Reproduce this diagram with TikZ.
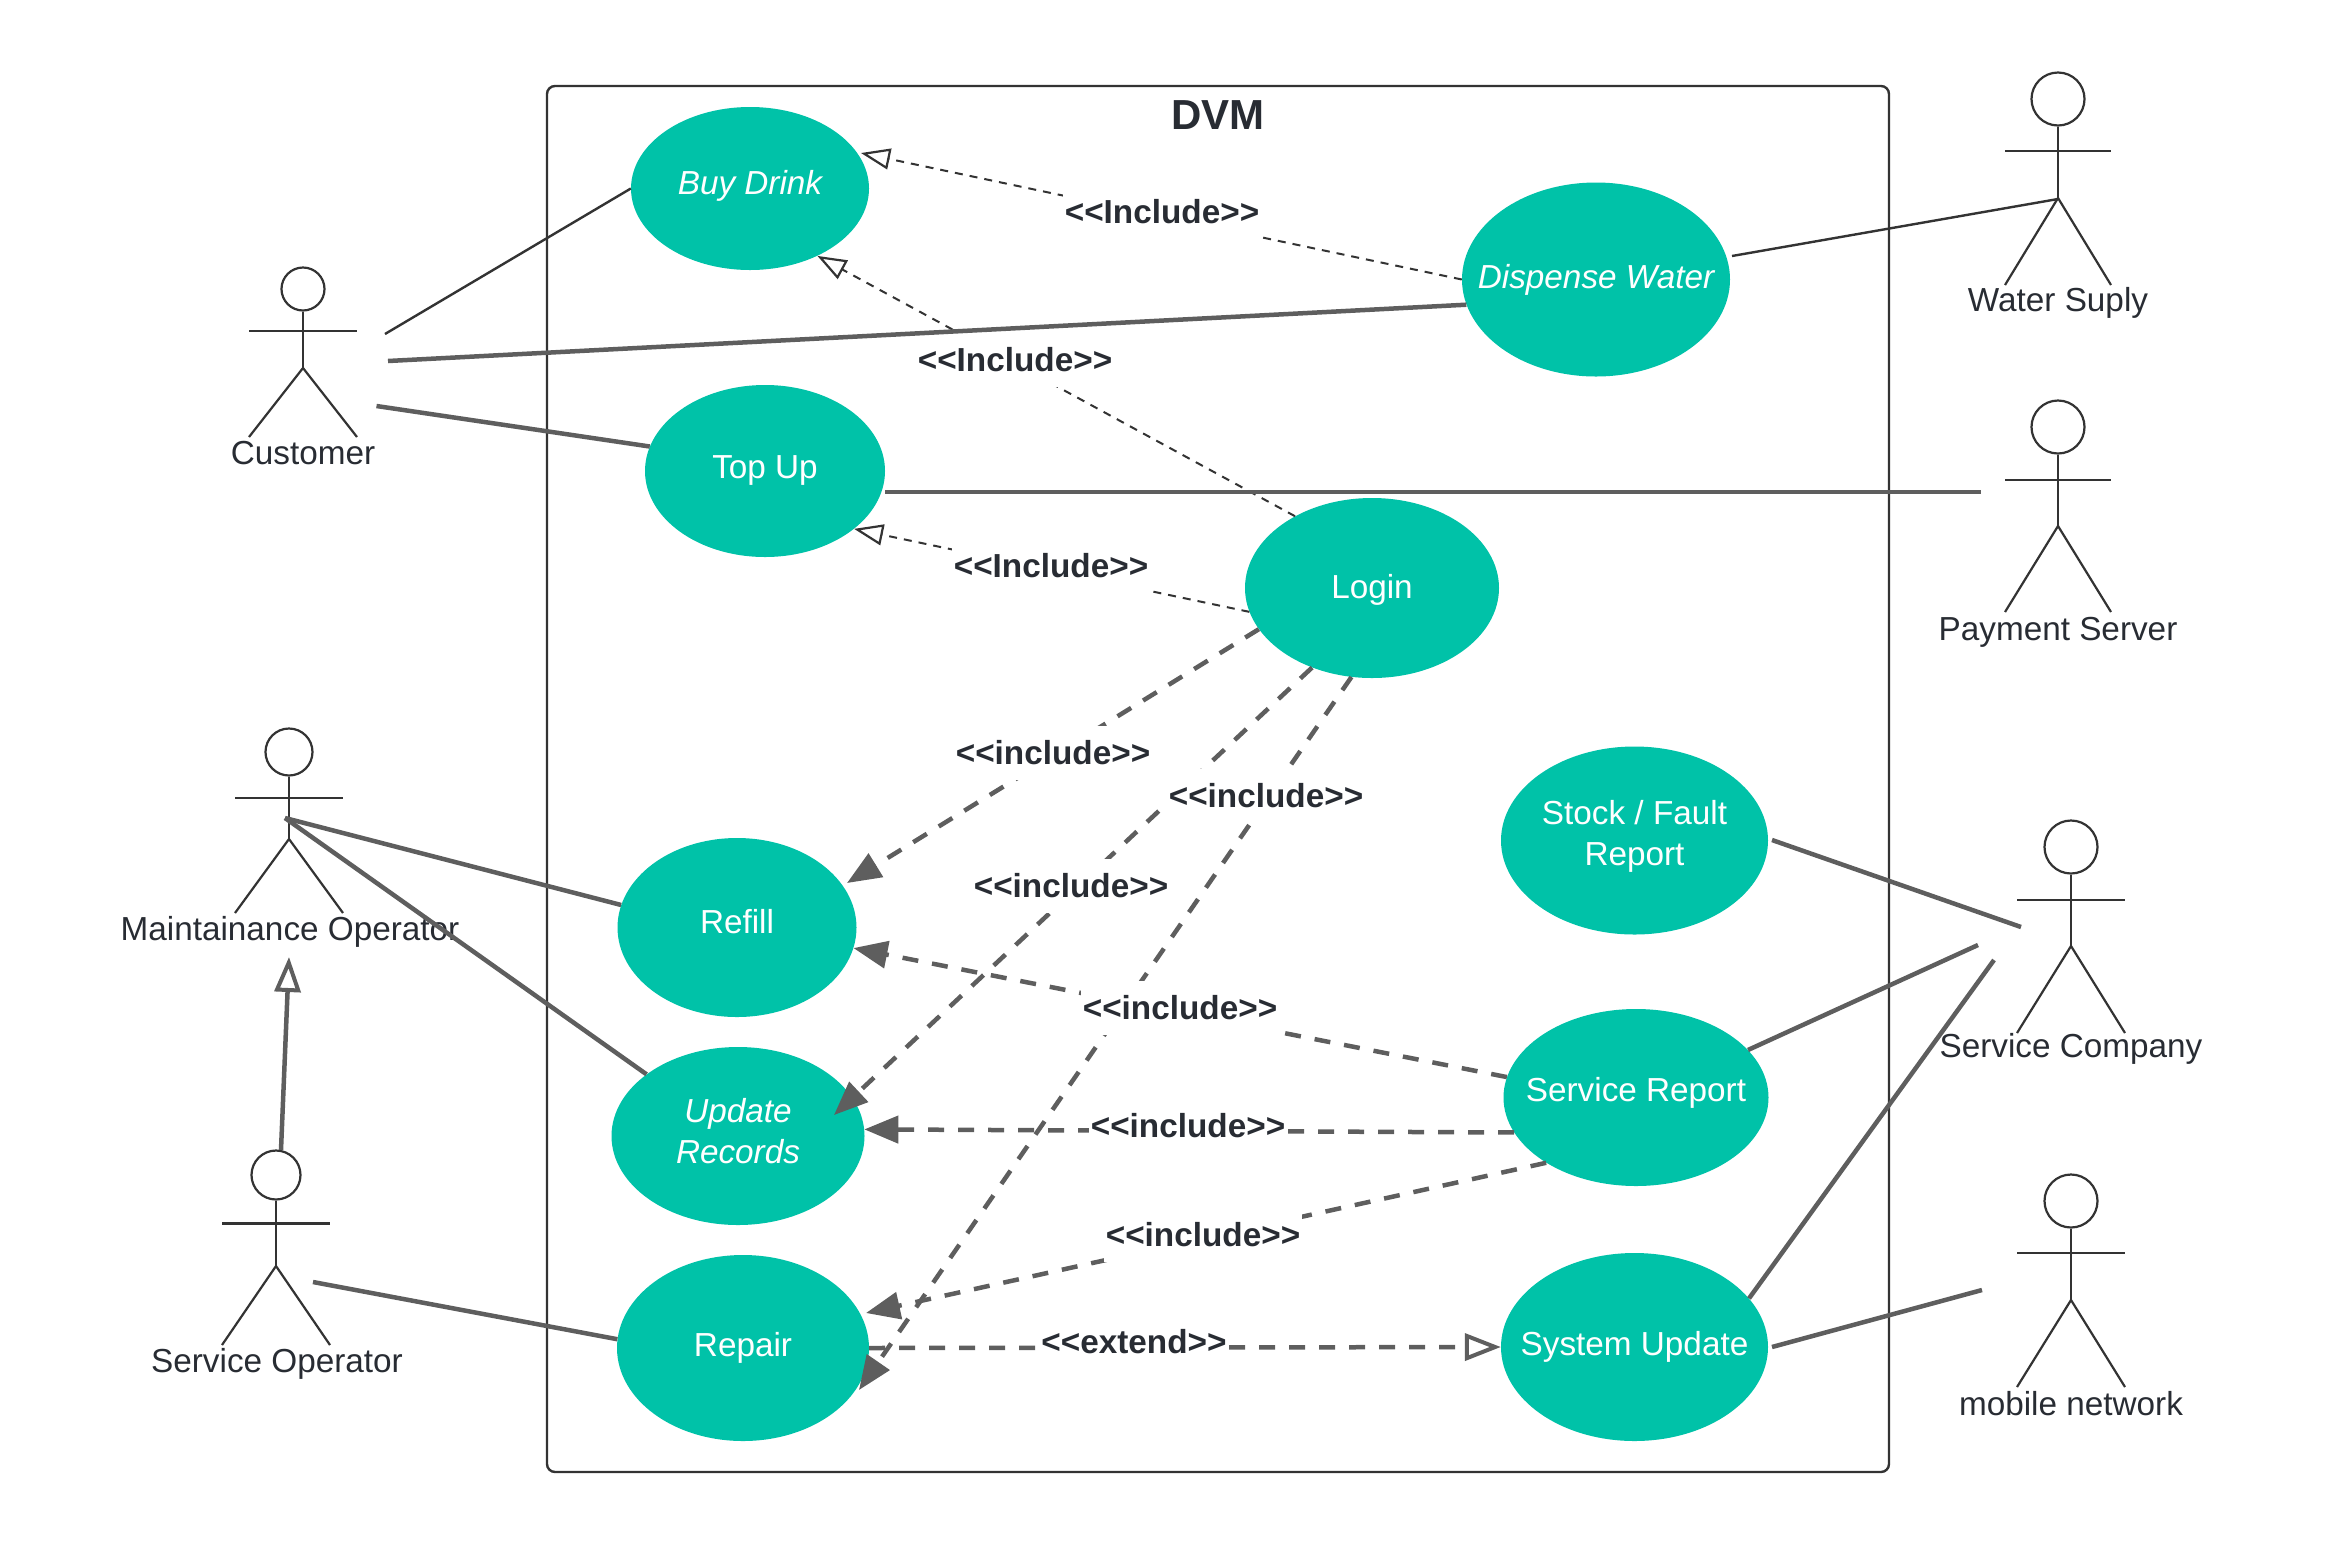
\documentclass[tikz,border=0pt]{standalone}
\usepackage{fontspec}
\setmainfont{Liberation Sans}
\usetikzlibrary{arrows.meta,shapes.geometric}
\definecolor{teal1}{HTML}{00C2A8}
\definecolor{grayline}{HTML}{5E5E5E}
\definecolor{darkline}{HTML}{333333}
\definecolor{inktext}{HTML}{282C33}
\newcommand{\uctext}[2][0]{\makebox[0pt]{\raisebox{\dimexpr#1pt-8.3pt\relax}[0pt][0pt]{\begin{tabular}{@{}c@{}}#2\end{tabular}}}}
\tikzset{
  usecase/.style={ellipse,fill=teal1,draw=none,inner sep=0pt,text=white,font=\fontsize{33.3}{41}\selectfont},
  actorhead/.style={circle,draw=darkline,line width=2.2pt,inner sep=0pt,fill=white},
  actorline/.style={draw=darkline,line width=2.2pt},
  actortext/.style={text=inktext,font=\fontsize{33.3}{41}\selectfont,inner sep=0pt},
  thinlink/.style={draw=darkline,line width=2.4pt},
  thicklink/.style={draw=grayline,line width=4.5pt},
  thindash/.style={draw=darkline,line width=2pt,dash pattern=on 8pt off 7pt,
     -{Triangle[open,fill=white,length=29pt,width=21pt,line width=2.2pt]}},
  thickdash/.style={draw=grayline,line width=4.5pt,dash pattern=on 16pt off 14pt,
     -{Triangle[fill=grayline,length=34pt,width=27pt]}},
  extdash/.style={draw=grayline,line width=4.5pt,dash pattern=on 16pt off 14pt,
     -{Triangle[open,fill=white,length=36pt,width=27pt,line width=4pt]}},
  genlink/.style={draw=grayline,line width=4.5pt,
     -{Triangle[open,fill=white,length=35pt,width=26pt,line width=4pt]}},
  linklabel/.style={fill=white,text=inktext,font=\fontsize{33.3}{40}\bfseries\selectfont,inner xsep=2pt,minimum height=54pt,inner ysep=0pt},
}
% name, x, head y, radius, bar y, crotch y, foot y, half width
\newcommand{\drawactor}[8]{%
  \node[actorhead,minimum size=#4*2pt] (#1) at (#2,#3) {};
  \draw[actorline] (#1.south) -- (#2,#6);
  \draw[actorline] ({#2-#8},#5) -- ({#2+#8},#5);
  \draw[actorline] ({#2-#8},#7) -- (#2,#6) -- ({#2+#8},#7);
}
\begin{document}
\begin{tikzpicture}[x=1pt,y=-1pt]
\useasboundingbox (0,0) rectangle (2351,1551);
% system boundary
\node[draw=darkline,line width=2.4pt,rounded corners=8pt,minimum width=1342pt,minimum height=1386pt,inner sep=0pt] (sys) at (1218,779) {};
\node[font=\fontsize{42}{50}\bfseries\selectfont,text=inktext,inner sep=0pt] (sysTitle) at (1218,115) {DVM};
% use cases
\node[usecase,minimum width=238pt,minimum height=163pt] (buy) at (750,188.5) {\uctext[4.5]{\itshape Buy Drink}};
\node[usecase,minimum width=268pt,minimum height=194pt] (disp) at (1596,279.5) {\uctext[1.5]{\itshape Dispense Water}};
\node[usecase,minimum width=240pt,minimum height=172pt] (top) at (765,471) {\uctext[3]{Top Up}};
\node[usecase,minimum width=254pt,minimum height=180pt] (login) at (1372,588) {\uctext{Login}};
\node[usecase,minimum width=267pt,minimum height=188pt] (stock) at (1634.5,840.5) {\uctext[6]{Stock / Fault\\Report}};
\node[usecase,minimum width=239pt,minimum height=179pt] (refill) at (737,927.5) {\uctext[4.5]{Refill}};
\node[usecase,minimum width=253pt,minimum height=178pt] (upd) at (738,1136) {\uctext[3]{\itshape Update\\\itshape Records}};
\node[usecase,minimum width=252pt,minimum height=186pt] (repair) at (743,1348) {\uctext[1.5]{Repair}};
\node[usecase,minimum width=265pt,minimum height=177pt] (report) at (1636,1097.5) {\uctext[6]{Service Report}};
\node[usecase,minimum width=267pt,minimum height=188pt] (sysup) at (1634.5,1347) {\uctext[1.5]{System Update}};
% actors
\drawactor{custA}{303}{289}{21.5}{331}{368}{437}{54}
\node[actortext] (custT) at (303,453) {Customer};
\drawactor{waterA}{2058}{99}{26.5}{151}{198}{285}{53}
\node[actortext] (waterT) at (2058,303) {Water Suply};
\drawactor{payA}{2058}{427}{26.5}{480}{526}{612}{53}
\node[actortext] (payT) at (2058,632) {Payment Server};
\drawactor{maintA}{289}{752}{23.5}{798}{839}{913}{54}
\node[actortext] (maintT) at (290,932) {Maintainance Operator};
\drawactor{servA}{276}{1175}{24.5}{1223.5}{1266}{1345}{54}
\node[actortext] (servT) at (277,1364) {Service Operator};
\drawactor{compA}{2071}{847}{26.5}{900}{946}{1033}{54}
\node[actortext] (compT) at (2071,1049) {Service Company};
\drawactor{mobA}{2071}{1201}{26.5}{1253}{1300}{1387}{54}
\node[actortext] (mobT) at (2071,1404) {mobile network};
% free ends
\coordinate (c1) at (385,334);
\coordinate (c2) at (388,361);
\coordinate (c3) at (376.5,406);
\coordinate (w1) at (2058,199);
\coordinate (w0) at (1732,256);
\coordinate (p0) at (885,492);
\coordinate (p1) at (1981,492);
\coordinate (m1) at (285,818);
\coordinate (s1) at (313,1282);
\coordinate (g1) at (281,1150);
\coordinate (g2) at (289,957);
\coordinate (k0) at (1772,840);
\coordinate (k1) at (2021,927);
\coordinate (k2) at (1978,945);
\coordinate (k3) at (1994,960);
\coordinate (n1) at (1982,1290);
\coordinate (n0) at (1772,1347);
\coordinate (updTip) at (834,1115);
\coordinate (repTip) at (859,1390);
\coordinate (refTip) at (847,883);
\coordinate (buyTip) at (861,153);
\coordinate (rpTip) at (866,1313);
% dashed dependencies
\draw[thindash] (disp.180) -- (buyTip);
\draw[thindash] (login.137.6) -- (buy.-45.6);
\draw[thindash] (login.191) -- (top.-33.8);
\draw[thickdash] (login.200.6) -- (refTip);
\draw[thickdash] (login.233.5) -- (updTip);
\draw[thickdash] (login.257.5) -- (repTip);
\draw[thickdash] (report.171) -- (refill.-10.4);
\draw[thickdash] (report.196) -- (upd.3);
\draw[thickdash] (report.216) -- (rpTip);
\draw[extdash] (repair.0) -- (sysup.180);
% labels
\node[linklabel] (l1) at (1162,212) {<{}<Include>{}>};
\node[linklabel] (l2) at (1015,360) {<{}<Include>{}>};
\node[linklabel] (l3) at (1051,566) {<{}<Include>{}>};
\node[linklabel] (l4) at (1053,753) {<{}<include>{}>};
\node[linklabel] (l5) at (1266,796) {<{}<include>{}>};
\node[linklabel] (l6) at (1071,886) {<{}<include>{}>};
\node[linklabel] (l7) at (1180,1008) {<{}<include>{}>};
\node[linklabel] (l8) at (1188,1126) {<{}<include>{}>};
\node[linklabel] (l9) at (1203,1235) {<{}<include>{}>};
\node[linklabel] (l10) at (1134,1342) {<{}<extend>{}>};
% solid associations
\draw[thinlink] (c1) -- (buy.180);
\draw[thicklink] (c2) -- (disp.191);
\draw[thicklink] (c3) -- (top.168);
\draw[thicklink] (p0) -- (p1);
\draw[thinlink] (w0) -- (w1);
\draw[thicklink] (m1) -- (refill.169);
\draw[thicklink] (m1) -- (upd.146.4);
\draw[thicklink] (s1) -- (repair.176);
\draw[genlink] (g1) -- (g2);
\draw[thicklink] (k0) -- (k1);
\draw[thicklink] (report.23.7) -- (k2);
\draw[thicklink] (sysup.23) -- (k3);
\draw[thicklink] (n0) -- (n1);
\end{tikzpicture}
\end{document}
